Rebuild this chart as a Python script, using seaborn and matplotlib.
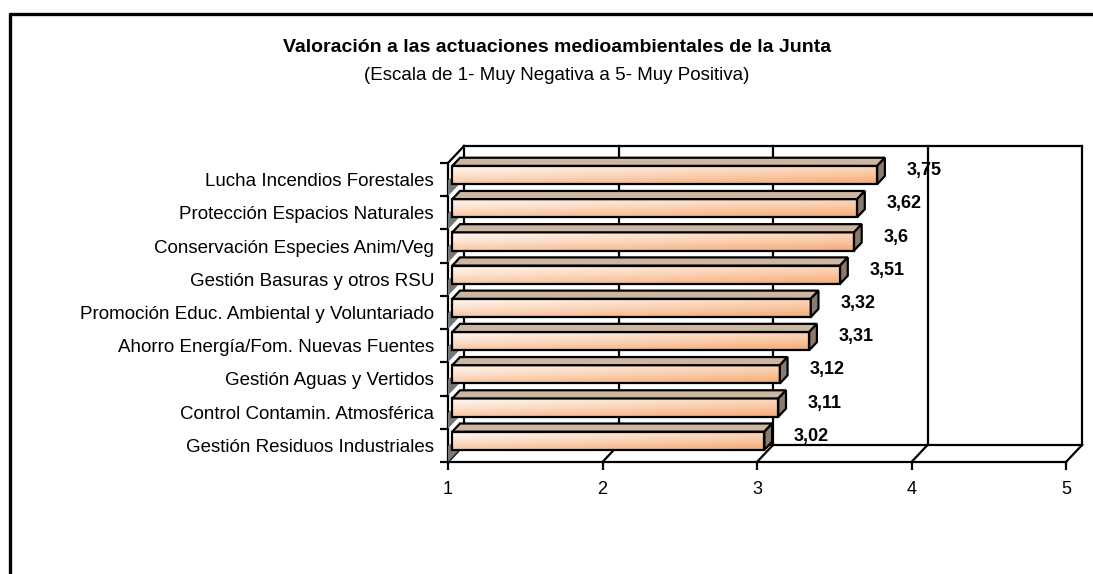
import matplotlib
matplotlib.use("Agg")
import matplotlib.pyplot as plt
from matplotlib.patches import Polygon
from matplotlib.lines import Line2D
import numpy as np
import pandas as pd
import seaborn as sns

# data
categories = [
    "Lucha Incendios Forestales",
    "Protección Espacios Naturales",
    "Conservación Especies Anim/Veg",
    "Gestión Basuras y otros RSU",
    "Promoción Educ. Ambiental y Voluntariado",
    "Ahorro Energía/Fom. Nuevas Fuentes",
    "Gestión Aguas y Vertidos",
    "Control Contamin. Atmosférica",
    "Gestión Residuos Industriales",
]
values = [3.75, 3.62, 3.6, 3.51, 3.32, 3.31, 3.12, 3.11, 3.02]
value_labels = ["3,75", "3,62", "3,6", "3,51", "3,32", "3,31", "3,12", "3,11", "3,02"]
x_ticks = [1, 2, 3, 4, 5]
title = "Valoración a las actuaciones medioambientales de la Junta"
subtitle = "(Escala de 1- Muy Negativa a 5- Muy Positiva)"

sns.set_theme(style="white")
plt.rcParams["font.family"] = ["Liberation Sans", "DejaVu Sans"]
plt.rcParams["text.color"] = "black"
plt.rcParams["xtick.color"] = "black"
plt.rcParams["ytick.color"] = "black"

W, H = 1093, 574
fig = plt.figure(figsize=(W / 100, H / 100), dpi=100)
fig.patch.set_facecolor("white")

# front plane of the pseudo-3D plot, in pixels
left_px, right_px, top_px, bot_px = 448, 1066, 163, 462
ax = fig.add_axes([left_px / W, 1 - bot_px / H, (right_px - left_px) / W, (bot_px - top_px) / H])
ax.set_facecolor("none")

n = len(categories)
xmin, xmax = x_ticks[0], x_ticks[-1]
ux = (xmax - xmin) / (right_px - left_px)   # data units per px (x)
uy = n / (bot_px - top_px)                  # data units per px (y)

# depth vector of the walls (up and to the right)
Dx, Dy = 16 * ux, -17 * uy
f1, f2 = 0.27, 0.75   # bar front / back depth fractions

df = pd.DataFrame({"cat": categories, "val": values})
sns.barplot(data=df, x="val", y="cat", orient="h", width=0.55, ax=ax,
            color="white", edgecolor="black", linewidth=1.6, zorder=6)

lc = "black"
lw = 1.6
ytop, ybot = -0.5, n - 0.5


def line(x0, y0, x1, y1, z=2, w=lw):
    ax.add_line(Line2D([x0, x1], [y0, y1], color=lc, lw=w, zorder=z,
                       clip_on=False, solid_capstyle="projecting"))


# back wall, grid lines, left wall, floor
line(xmin + Dx, ytop + Dy, xmax + Dx, ytop + Dy)
line(xmax + Dx, ytop + Dy, xmax + Dx, ybot + Dy)
line(xmin + Dx, ybot + Dy, xmax + Dx, ybot + Dy)
for k in x_ticks[:-1]:
    line(k + Dx, ytop + Dy, k + Dx, ybot + Dy)
line(xmin, ytop, xmin, ybot, z=3)
line(xmin, ytop, xmin + Dx, ytop + Dy, z=3)
for k in x_ticks:
    line(k, ybot, k + Dx, ybot + Dy, z=3)
line(xmin, ybot, xmax, ybot, z=9)

# gradient for the bar faces
white = np.array([1.0, 1.0, 1.0])
orange = np.array([245, 168, 112]) / 255.0
gy = np.linspace(0, 1, 40)[:, None]
gx = np.linspace(0, 1, 200)[None, :]
t = np.clip(0.10 + 0.55 * gy ** 1.3 + 0.35 * gx, 0, 1)
grad = white[None, None, :] * (1 - t[..., None]) + orange[None, None, :] * t[..., None]

fdx, fdy = f1 * Dx, f1 * Dy
ddx, ddy = (f2 - f1) * Dx, (f2 - f1) * Dy

for p, v, lab in zip(ax.patches, values, value_labels):
    y0, h = p.get_y(), p.get_height()
    p.set_x(xmin + fdx)
    p.set_width(v - xmin)
    p.set_y(y0 + fdy)
    p.set_facecolor("none")
    x0, x1 = xmin + fdx, v + fdx
    yt, yb = y0 + fdy, y0 + h + fdy

    # grey patch on the left wall under the bar
    k = 12 * uy
    ax.add_patch(Polygon([(xmin, yb - 4 * uy), (xmin, yb + k), (xmin + Dx, yb + k + Dy), (xmin + Dx, yb + Dy)],
                         closed=True, facecolor="#777777", edgecolor="none", zorder=4, clip_on=False))

    im = ax.imshow(grad, extent=(x0, x1, yb, yt), origin="upper", aspect="auto",
                   interpolation="bilinear", zorder=5)
    im.set_clip_path(p)

    # top face and right end face
    ax.add_patch(Polygon([(x0, yt), (x1, yt), (x1 + ddx, yt + ddy), (x0 + ddx, yt + ddy)],
                         closed=True, facecolor="#cdb7a3", edgecolor="black", lw=lw, zorder=6,
                         clip_on=False))
    ax.add_patch(Polygon([(x1, yt), (x1, yb), (x1 + ddx, yb + ddy), (x1 + ddx, yt + ddy)],
                         closed=True, facecolor="#8c7b6c", edgecolor="black", lw=lw, zorder=7,
                         clip_on=False))

    c = y0 + h / 2
    ax.text(x1 + ddx + 22 * ux, c - 9 * uy, lab, ha="left", va="center",
            fontsize=13, fontweight="bold", color="black", zorder=10, clip_on=False)

ax.set_xlim(xmin, xmax)
ax.set_ylim(ybot, ytop)
for s in ax.spines.values():
    s.set_visible(False)

ax.set_xticks(x_ticks)
ax.set_xticklabels([str(k) for k in x_ticks])
ax.set_yticks(range(n))
ax.set_yticklabels(categories)
ax.set_yticks(np.arange(n + 1) - 0.5, minor=True)
ax.tick_params(axis="x", which="major", length=6, width=lw, direction="out",
               bottom=True, pad=8, labelsize=13, colors="black")
ax.tick_params(axis="y", which="major", length=0, pad=10, labelsize=13.5, colors="black")
ax.tick_params(axis="y", which="minor", length=6, width=lw, direction="out", left=True)
ax.set_xlabel("")
ax.set_ylabel("")
ax.grid(False)

fig.text(557 / W, 1 - 47 / H, title, ha="center", va="center", fontsize=14,
         fontweight="bold", color="black")
fig.text(557 / W, 1 - 76 / H, subtitle, ha="center", va="center", fontsize=13.5, color="black")

# outer chart frame (only top and left edges are in view)
fig.add_artist(Line2D([10 / W, 10 / W], [0, 1 - 14 / H], color="black", lw=2.4,
                      transform=fig.transFigure))
fig.add_artist(Line2D([10 / W, 1], [1 - 14 / H, 1 - 14 / H], color="black", lw=2.4,
                      transform=fig.transFigure))

fig.savefig("out.png", dpi=100)
